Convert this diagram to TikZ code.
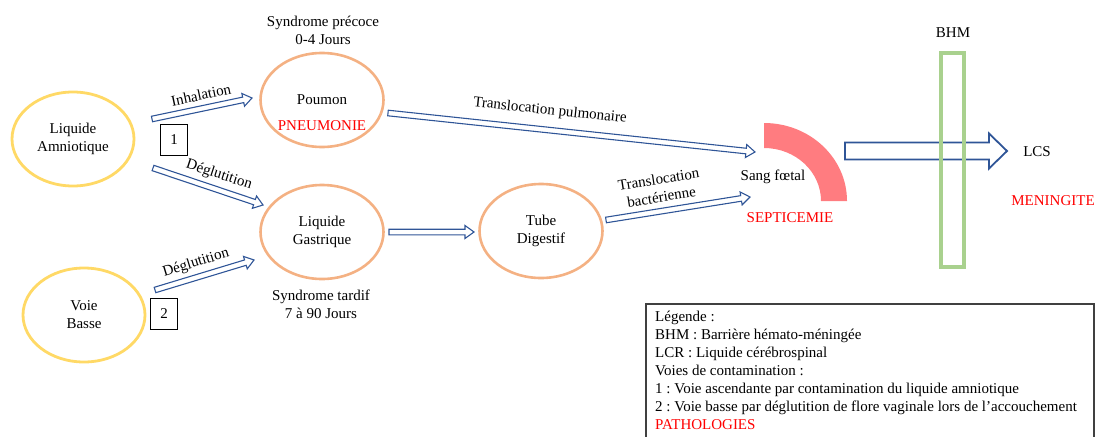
\documentclass[tikz,border=0pt]{standalone}
\usepackage{fontspec}
\setmainfont{Liberation Serif}
\usetikzlibrary{calc,shapes.geometric}
\definecolor{ayellow}{HTML}{FFD966}
\definecolor{aorange}{HTML}{F4B183}
\definecolor{ablue}{HTML}{2F5597}
\definecolor{ared}{HTML}{FF7C80}
\definecolor{agreen}{HTML}{A9D18E}
\definecolor{tred}{HTML}{FF0000}
\tikzset{
  txt/.style={font=\fontsize{15}{18}\selectfont\frenchspacing, inner sep=0pt, align=center},
  yell/.style={ellipse, draw=ayellow, line width=2.8pt, minimum width=122pt, minimum height=94pt, txt},
  oran/.style={ellipse, draw=aorange, line width=2.6pt, minimum width=123pt, minimum height=94pt, txt},
  numbox/.style={draw=black, line width=1.1pt, minimum width=27pt, minimum height=31pt, txt},
  redtxt/.style={txt, text=tred},
  barrow/.style n args={3}{draw=ablue, line width=1.1pt, line join=miter,
    to path={let \p1=($(\tikztotarget)-(\tikztostart)$), \n1={atan2(\y1,\x1)}, \n2={veclen(\x1,\y1)-#3} in
      ($(\tikztostart)+(\n1+90:#1)$) -- ($(\tikztostart)+(\n1:\n2)+(\n1+90:#1)$)
      -- ($(\tikztostart)+(\n1:\n2)+(\n1+90:#2)$) -- (\tikztotarget)
      -- ($(\tikztostart)+(\n1:\n2)+(\n1-90:#2)$) -- ($(\tikztostart)+(\n1:\n2)+(\n1-90:#1)$)
      -- ($(\tikztostart)+(\n1-90:#1)$) -- cycle}},
  small/.style={barrow={2.8pt}{6.5pt}{9pt}},
  big/.style={barrow={8.5pt}{17.5pt}{18pt}, line width=1.8pt},
}
\begin{document}
\begin{tikzpicture}[x=1pt,y=-1pt]
\useasboundingbox (0,0) rectangle (1099,436);
% ellipses
\node[yell] (amn) at (73,139) {Liquide\\Amniotique};
\node[yell] (vb) at (84,315) {Voie\\Basse};
\node[oran] (pou) at (322,100) {Poumon};
\node[redtxt] (pneu) at (322,126) {PNEUMONIE};
\node[oran] (gas) at (322,232) {Liquide\\Gastrique};
\node[oran] (tube) at (541,231) {Tube\\Digestif};
% texts
\node[txt] (sp) at (323,30) {Syndrome précoce\\0-4 Jours};
\node[txt] (st) at (321,304) {Syndrome tardif\\7 à 90 Jours};
\node[numbox] (b1) at (174,140) {1};
\node[numbox] (b2) at (164,314) {2};
% arrow end points
\coordinate (inhA) at (152,119); \coordinate (inhB) at (252,98);
\coordinate (dg1A) at (153,168); \coordinate (dg1B) at (263,205);
\coordinate (dg2A) at (155,290); \coordinate (dg2B) at (254,260);
\coordinate (gtA) at (389,232); \coordinate (gtB) at (474,232);
\coordinate (tsA) at (606,220); \coordinate (tsB) at (750,197);
\coordinate (psA) at (388,113); \coordinate (psB) at (755,152);
\coordinate (lcA) at (845,151); \coordinate (lcB) at (1007,151);
% small arrows
\draw[small] (inhA) to (inhB);
\draw[small] (dg1A) to (dg1B);
\draw[small] (dg2A) to (dg2B);
\draw[small] (gtA) to (gtB);
\draw[small] (tsA) to (tsB);
\draw[small] (psA) to (psB);
% arrow labels
\node[txt, rotate=12] (linh) at (201,95) {Inhalation};
\node[txt, rotate=-18] (ldg1) at (219,175) {Déglutition};
\node[txt, rotate=17] (ldg2) at (196,263) {Déglutition};
\node[txt, rotate=-6] (lps) at (550,111) {Translocation pulmonaire};
\node[txt, rotate=9] (lts) at (660,188) {Translocation\\bactérienne};
% blood
\fill[ared] (764,123) arc[start angle=90, end angle=0, x radius=83pt, y radius=78pt]
  -- (821,201) arc[start angle=0, end angle=90, x radius=57pt, y radius=53pt] -- cycle;
\node[txt] (sang) at (773,177) {Sang fœtal};
\node[redtxt] (sept) at (790,218) {SEPTICEMIE};
% BHM
\draw[big] (lcA) to (lcB);
\draw[agreen, line width=3.4pt] (941,53) rectangle (964,267);
\node[txt] (bhm) at (953,33) {BHM};
\node[txt] (lcs) at (1037,152) {LCS};
\node[redtxt] (men) at (1053,201) {MENINGITE};
% legend
\draw[black!75, line width=1.2pt] (646,440) -- (646,304) -- (1094,304) -- (1094,440);
\node[txt, align=left, anchor=north west] (leg) at (655,311) {Légende :\\BHM : Barrière hémato-méningée\\LCR : Liquide cérébrospinal\\Voies de contamination :\\1 : Voie ascendante par contamination du liquide amniotique\\2 : Voie basse par déglutition de flore vaginale lors de l’accouchement\\\textcolor{tred}{PATHOLOGIES}};
\end{tikzpicture}
\end{document}
